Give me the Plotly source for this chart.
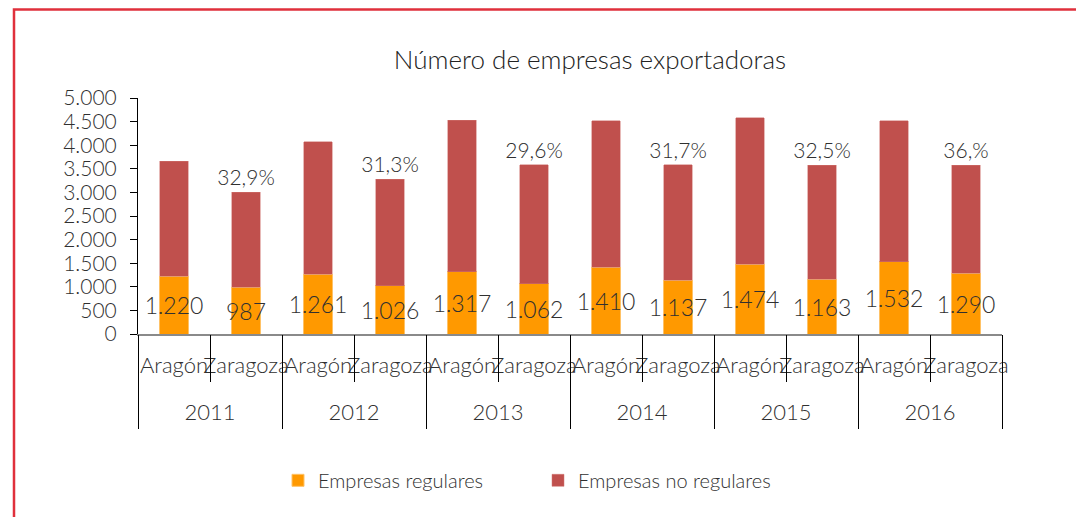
import plotly.graph_objects as go

years = ["2011", "2012", "2013", "2014", "2015", "2016"]
regions = ["Aragón", "Zaragoza"]
regulares = [1220, 987, 1261, 1026, 1317, 1062, 1410, 1137, 1474, 1163, 1532, 1290]
no_regulares = [2445, 2013, 2807, 2252, 3217, 2526, 3110, 2450, 3109, 2415, 2981, 2290]
pct_labels = ["", "32,9%", "", "31,3%", "", "29,6%", "", "31,7%", "", "32,5%", "", "36,%"]
y_ticks = [0, 500, 1000, 1500, 2000, 2500, 3000, 3500, 4000, 4500, 5000]

x_outer = [y for y in years for _ in regions]
x_inner = [r for _ in years for r in regions]
x_mc = [x_outer, x_inner]

n_cat = len(x_inner)
n_reg = len(regions)
cat_idx = list(range(n_cat))                                   # category centres
cat_bounds = [i - 0.5 for i in range(n_cat + 1)]               # all category boundaries
year_bounds = [i * n_reg - 0.5 for i in range(len(years) + 1)]  # year group boundaries
year_centres = [i * n_reg + (n_reg - 1) / 2 for i in range(len(years))]
x_range = [-0.5, n_cat - 0.5]


def fmt(v):
    return f"{v:,}".replace(",", ".")


FONT = "Lato"
TXT = "#303030"
ORANGE = "#FF9900"
RED = "#C0504D"

# page body has an 8px margin: layout is laid out 8px up/left of reference coords
L, T, PW, PH = 130, 90, 864, 236

fig = go.Figure()
fig.add_trace(go.Bar(
    x=x_mc, y=regulares, name="Empresas regulares",
    marker=dict(color=ORANGE, line=dict(color="#FFC266", width=1)),
    width=0.41,
    text=[fmt(v) for v in regulares], textposition="inside",
    insidetextanchor="middle", constraintext="none", textangle=0,
    textfont=dict(family=FONT, size=23, color=TXT, weight=300),
    cliponaxis=False,
))
fig.add_trace(go.Bar(
    x=x_mc, y=no_regulares, name="Empresas no regulares",
    marker=dict(color=RED, line=dict(color="#D07470", width=0.5)),
    width=0.39,
    text=pct_labels, textposition="outside", constraintext="none", textangle=0,
    textfont=dict(family=FONT, size=21, color=TXT, weight=300),
    cliponaxis=False,
))
# empty traces registering the overlay axes used for the category labels / separators
for ax in ["x2", "x3", "x4", "x5"]:
    fig.add_trace(go.Scatter(x=[None], y=[None], xaxis=ax, showlegend=False,
                             mode="markers", hoverinfo="skip"))

common = dict(overlaying="x", anchor="y", side="bottom", range=x_range,
              showline=False, showgrid=False, zeroline=False, tickmode="array",
              tickangle=0)

fig.update_layout(
    width=1084, height=517,
    barmode="stack",
    paper_bgcolor="white", plot_bgcolor="white",
    margin=dict(l=L, r=1084 - L - PW, t=T, b=517 - T - PH, autoexpand=False),
    font=dict(family=FONT, size=20, color=TXT, weight=300),
    title=dict(text="Número de empresas exportadoras", x=582 / 1084, xanchor="center",
               y=1 - 52 / 517, yanchor="middle",
               font=dict(family=FONT, size=26, color="#222", weight=300)),
    showlegend=True,
    legend=dict(orientation="h", x=(270 - L) / PW, xanchor="left", y=-0.62, yanchor="middle",
                font=dict(family=FONT, size=20, color=TXT, weight=300),
                traceorder="normal", itemwidth=30, entrywidth=215, entrywidthmode="pixels"),
    xaxis=dict(type="multicategory", showline=True, linecolor="#8a8a8a", linewidth=2,
               ticks="", showticklabels=False, showdividers=False,
               showgrid=False, zeroline=False),
    # region names
    xaxis2=dict(**common, tickvals=cat_idx, ticktext=x_inner, ticks="",
                ticklabelstandoff=16,
                tickfont=dict(family=FONT, size=22, color=TXT, weight=300)),
    # short separators between every category
    xaxis3=dict(**common, tickvals=cat_bounds, ticktext=[""] * len(cat_bounds),
                ticks="outside", ticklen=47, tickcolor="#000", tickwidth=1,
                showticklabels=False),
    # long separators between years
    xaxis4=dict(**common, tickvals=year_bounds, ticktext=[""] * len(year_bounds),
                ticks="outside", ticklen=94, tickcolor="#000", tickwidth=1,
                showticklabels=False),
    # year labels
    xaxis5=dict(**common, tickvals=year_centres, ticktext=years, ticks="",
                ticklabelstandoff=63,
                tickfont=dict(family=FONT, size=22, color=TXT, weight=300)),
    yaxis=dict(range=[0, 5000], tickvals=y_ticks, ticktext=[fmt(v) for v in y_ticks],
               ticks="outside", ticklen=7, tickcolor="#000", showline=True,
               linecolor="#000", linewidth=1, showgrid=False, zeroline=False,
               ticklabelstandoff=9,
               tickfont=dict(family=FONT, size=21, color=TXT, weight=300)),
    shapes=[dict(type="rect", xref="paper", yref="paper",
                 x0=(6 - L) / PW, x1=(1095 - L) / PW,
                 y0=-(PH + 200) / PH, y1=1 + (T - 1.5) / PH,
                 line=dict(color="#E0303C", width=2.5), layer="below")],
)

fig.write_html("out.html")
